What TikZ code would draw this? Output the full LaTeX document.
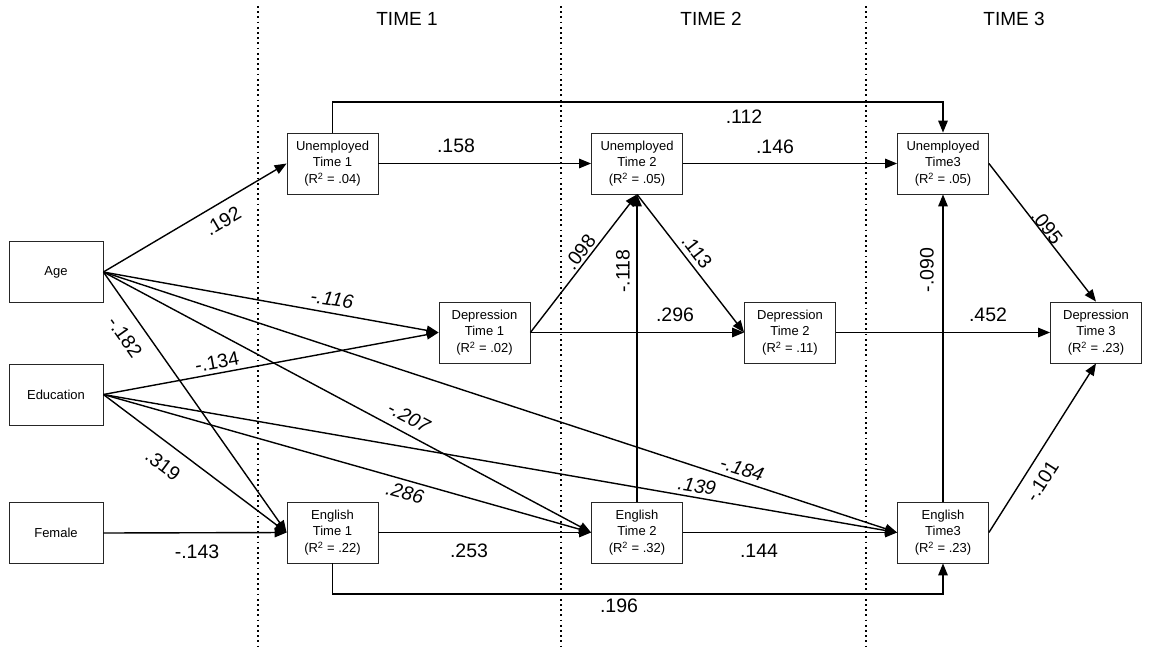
\documentclass[tikz,border=0pt]{standalone}
\usepackage{fontspec}
\setmainfont{Liberation Sans}
\usetikzlibrary{arrows.meta}
\begin{document}
\begin{tikzpicture}[x=1pt,y=-1pt,
 box/.style={draw=black!85, line width=0.8pt, minimum width=91pt, minimum height=61pt, inner sep=0pt, align=center, font=\fontsize{13}{16.7}\selectfont},
 arr/.style={line width=1.4pt, -{Triangle[length=12pt,width=9.5pt]}},
 lbl/.style={font=\fontsize{19.5}{22}\selectfont, inner sep=0pt},
 ilbl/.style={font=\fontsize{19.5}{22}\selectfont\itshape, inner sep=0pt},
 sep/.style={line width=1.8pt, dash pattern=on 1.8pt off 3.4pt},
 hdr/.style={font=\fontsize{19}{22}\selectfont, inner sep=0pt}]
\useasboundingbox (0,0) rectangle (1168,651);
% separators
\coordinate (s1t) at (258,6); \coordinate (s1b) at (258,648);
\coordinate (s2t) at (561,6); \coordinate (s2b) at (561,648);
\coordinate (s3t) at (866,6); \coordinate (s3b) at (866,648);
\draw[sep] (s1t) -- (s1b);
\draw[sep] (s2t) -- (s2b);
\draw[sep] (s3t) -- (s3b);
\node[hdr] (h1) at (407,18.5) {TIME 1};
\node[hdr] (h2) at (711,18.5) {TIME 2};
\node[hdr] (h3) at (1014,18.5) {TIME 3};
% boxes
\node[box,minimum width=94pt] (age) at (56,272) {Age};
\node[box,minimum width=94pt] (edu) at (56,394.5) {Education};
\node[box,minimum width=94pt] (fem) at (56,533) {Female};
\node[box] (ut1) at (332.5,163.5) {Unemployed\\Time 1\\(R\textsuperscript{2} = .04)};
\node[box] (ut2) at (637,163.5) {Unemployed\\Time 2\\(R\textsuperscript{2} = .05)};
\node[box] (ut3) at (943,163.5) {Unemployed\\Time3\\(R\textsuperscript{2} = .05)};
\node[box] (dt1) at (484.5,332.5) {Depression\\Time 1\\(R\textsuperscript{2} = .02)};
\node[box] (dt2) at (790,332.5) {Depression\\Time 2\\(R\textsuperscript{2} = .11)};
\node[box] (dt3) at (1096,332.5) {Depression\\Time 3\\(R\textsuperscript{2} = .23)};
\node[box] (et1) at (332.5,532.5) {English\\Time 1\\(R\textsuperscript{2} = .22)};
\node[box] (et2) at (637,532.5) {English\\Time 2\\(R\textsuperscript{2} = .32)};
\node[box] (et3) at (943,532.5) {English\\Time3\\(R\textsuperscript{2} = .23)};
% helper coordinates
\coordinate (topy) at (0,102);
\coordinate (boty) at (0,594);
% connectors
\draw[arr] (age.east) -- (ut1.west);
\draw[arr] (age.east) -- (dt1.west);
\draw[arr] (age.east) -- (et1.west);
\draw[arr] (age.east) -- (et2.west);
\draw[arr] (age.east) -- (et3.west);
\draw[arr] (edu.east) -- (dt1.west);
\draw[arr] (edu.east) -- (et1.west);
\draw[arr] (edu.east) -- (et2.west);
\draw[arr] (edu.east) -- (et3.west);
\draw[arr] (fem.east) -- (et1.west);
\draw[arr] (ut1.east) -- (ut2.west);
\draw[arr] (ut2.east) -- (ut3.west);
\draw[arr] (ut1.north) -- (ut1.north |- topy) -| (ut3.north);
\draw[arr] (dt1.east) -- (dt2.west);
\draw[arr] (dt2.east) -- (dt3.west);
\draw[arr] (dt1.east) -- (ut2.south);
\draw[arr] (et2.north) -- (ut2.south);
\draw[arr] (ut2.south) -- (dt2.west);
\draw[arr] (et3.north) -- (ut3.south);
\draw[arr] (ut3.east) -- (dt3.north);
\draw[arr] (et3.east) -- (dt3.south);
\draw[arr] (et1.east) -- (et2.west);
\draw[arr] (et2.east) -- (et3.west);
\draw[arr] (et1.south) -- (et1.south |- boty) -| (et3.south);
% labels
\node[lbl,rotate=30.4] (l192) at (223,221) {.192};
\node[lbl,rotate=-54.7] (l182) at (125,337) {-.182};
\node[lbl,rotate=-36.9] (l319) at (163,465) {.319};
\node[lbl,rotate=10.5] (l134) at (217,362) {-.134};
\node[lbl] (l143) at (197,552) {-.143};
\node[ilbl,rotate=-8] (l116) at (332,299) {-.116};
\node[ilbl,rotate=-28] (l207) at (409,417) {-.207};
\node[ilbl,rotate=-15] (l286) at (405,493) {.286};
\node[ilbl,rotate=-9] (l139) at (697,486) {.139};
\node[ilbl,rotate=-17] (l184) at (742,469) {-.184};
\node[lbl] (l158) at (456,146) {.158};
\node[lbl] (l146) at (775,147) {.146};
\node[lbl] (l112) at (744,117) {.112};
\node[lbl,rotate=52.5] (l098) at (580,252) {.098};
\node[lbl,rotate=90] (l118) at (623,271) {-.118};
\node[lbl,rotate=-52.2] (l113) at (697,252) {.113};
\node[lbl] (l296) at (675,315) {.296};
\node[lbl] (l452) at (988,315) {.452};
\node[lbl,rotate=90] (l090) at (927,270) {-.090};
\node[lbl,rotate=-52.2] (l095) at (1047,227) {.095};
\node[lbl,rotate=57.4] (l101) at (1042,481) {-.101};
\node[lbl] (l253) at (469,551) {.253};
\node[lbl] (l144) at (759,551) {.144};
\node[lbl] (l196) at (619,606) {.196};
\end{tikzpicture}
\end{document}
